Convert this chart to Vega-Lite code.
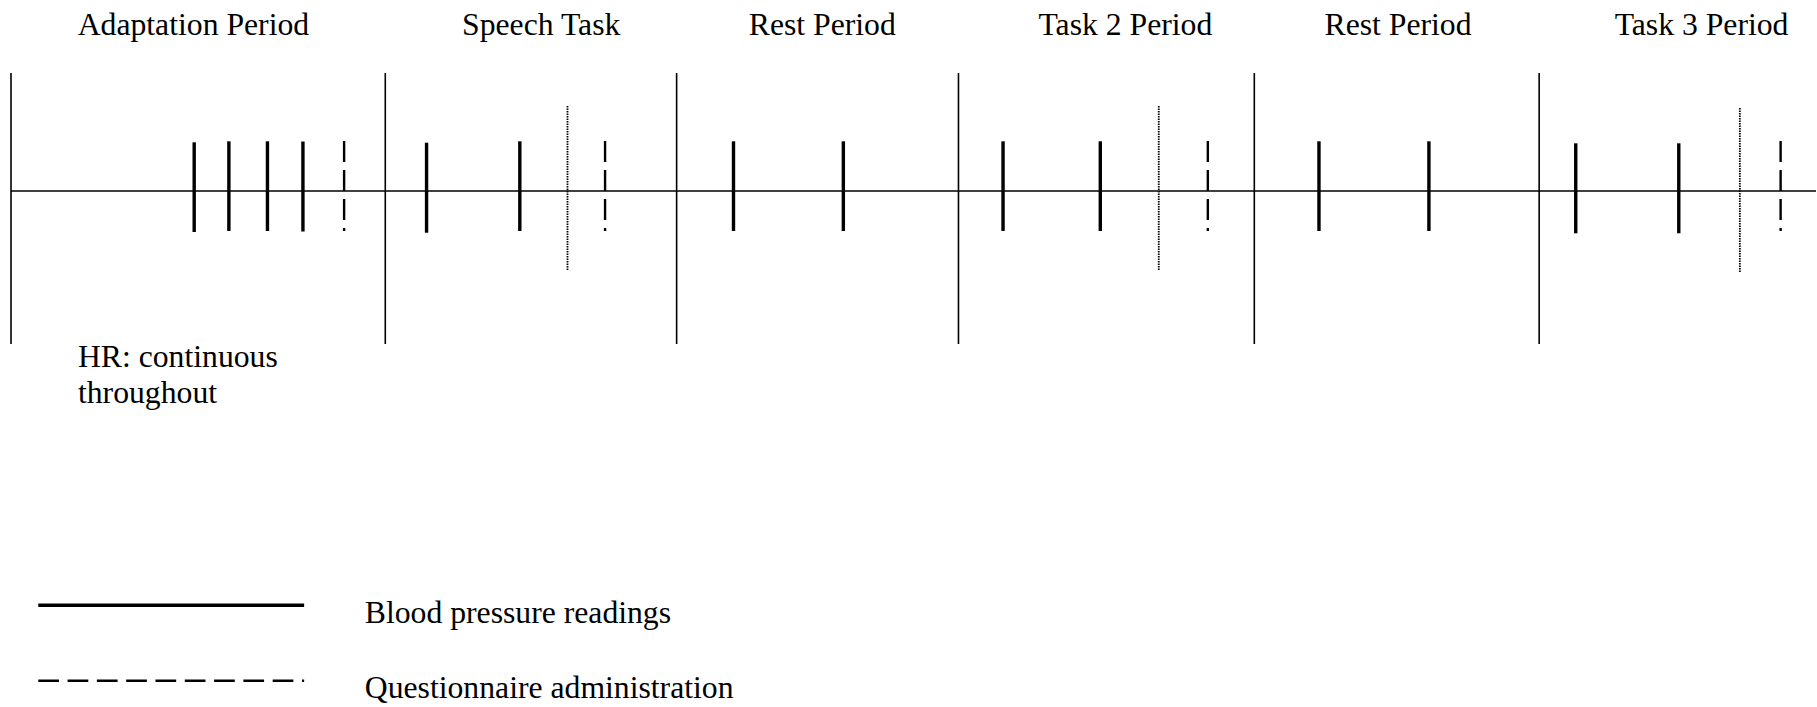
{
  "$schema": "https://vega.github.io/schema/vega-lite/v6.json",
  "width": 1817,
  "height": 707,
  "autosize": {"type": "fit", "contains": "padding"},
  "padding": 0,
  "background": "white",
  "config": {"view": {"stroke": null}},
  "layer": [
    {
      "data": {"values": [{"t0": 11, "t1": 1817, "lvl": 191}]},
      "mark": {"type": "rule", "color": "black", "strokeWidth": 1.5},
      "encoding": {
        "x": {"field": "t0", "type": "quantitative", "scale": {"domain": [0, 1817], "nice": false, "zero": false}, "axis": null},
        "x2": {"field": "t1"},
        "y": {"field": "lvl", "type": "quantitative", "scale": {"domain": [0, 707], "nice": false, "zero": false, "reverse": true}, "axis": null}
      }
    },
    {
      "data": {"values": [
        {"t": 11, "top": 73, "bot": 344},
        {"t": 385.5, "top": 73, "bot": 344},
        {"t": 677, "top": 73, "bot": 344},
        {"t": 959, "top": 73, "bot": 344},
        {"t": 1255, "top": 73, "bot": 344},
        {"t": 1540, "top": 73, "bot": 344}
      ]},
      "mark": {"type": "rule", "color": "black", "strokeWidth": 1.6},
      "encoding": {
        "x": {"field": "t", "type": "quantitative"},
        "y": {"field": "top", "type": "quantitative"},
        "y2": {"field": "bot"}
      }
    },
    {
      "data": {"values": [
        {"t": 194.3, "top": 142.3, "bot": 232},
        {"t": 229, "top": 141.3, "bot": 231},
        {"t": 267.6, "top": 141.3, "bot": 231},
        {"t": 303.1, "top": 141.5, "bot": 231.5},
        {"t": 426.8, "top": 142.7, "bot": 232.7},
        {"t": 520.1, "top": 141.3, "bot": 231},
        {"t": 733.9, "top": 141.3, "bot": 231},
        {"t": 843.8, "top": 141.3, "bot": 231},
        {"t": 1003.6, "top": 141.3, "bot": 231},
        {"t": 1100.9, "top": 141.3, "bot": 231},
        {"t": 1319.7, "top": 141.3, "bot": 231},
        {"t": 1429.7, "top": 141.3, "bot": 231},
        {"t": 1576.6, "top": 143.3, "bot": 233.3},
        {"t": 1679.7, "top": 143.3, "bot": 233.3}
      ]},
      "mark": {"type": "rule", "color": "black", "strokeWidth": 3.4},
      "encoding": {
        "x": {"field": "t", "type": "quantitative"},
        "y": {"field": "top", "type": "quantitative"},
        "y2": {"field": "bot"}
      }
    },
    {
      "data": {"values": [
        {"t": 344.3, "top": 141, "bot": 231},
        {"t": 605.4, "top": 141, "bot": 231},
        {"t": 1208.5, "top": 141, "bot": 231},
        {"t": 1781.6, "top": 141, "bot": 231}
      ]},
      "mark": {"type": "rule", "color": "black", "strokeWidth": 2.4, "strokeDash": [21, 8]},
      "encoding": {
        "x": {"field": "t", "type": "quantitative"},
        "y": {"field": "top", "type": "quantitative"},
        "y2": {"field": "bot"}
      }
    },
    {
      "data": {"values": [
        {"t": 567.8, "top": 106, "bot": 270.7},
        {"t": 1159.4, "top": 106, "bot": 270},
        {"t": 1740.8, "top": 108, "bot": 272.7}
      ]},
      "mark": {"type": "rule", "color": "black", "strokeWidth": 1.8, "strokeDash": [1.5, 1]},
      "encoding": {
        "x": {"field": "t", "type": "quantitative"},
        "y": {"field": "top", "type": "quantitative"},
        "y2": {"field": "bot"}
      }
    },
    {
      "data": {"values": [
        {"t": 193.5, "lvl": 35, "label": "Adaptation Period"},
        {"t": 541.5, "lvl": 35, "label": "Speech Task"},
        {"t": 822.7, "lvl": 35, "label": "Rest Period"},
        {"t": 1126, "lvl": 35, "label": "Task 2 Period"},
        {"t": 1398.8, "lvl": 35, "label": "Rest Period"},
        {"t": 1702.5, "lvl": 35, "label": "Task 3 Period"}
      ]},
      "mark": {"type": "text", "font": "Liberation Serif", "fontSize": 31.7, "color": "black", "align": "center", "baseline": "alphabetic"},
      "encoding": {
        "x": {"field": "t", "type": "quantitative"},
        "y": {"field": "lvl", "type": "quantitative"},
        "text": {"field": "label"}
      }
    },
    {
      "data": {"values": [
        {"t": 78, "lvl": 367, "label": "HR: continuous"},
        {"t": 78, "lvl": 403, "label": "throughout"},
        {"t": 365, "lvl": 623, "label": "Blood pressure readings"},
        {"t": 365, "lvl": 698, "label": "Questionnaire administration"}
      ]},
      "mark": {"type": "text", "font": "Liberation Serif", "fontSize": 31.7, "color": "black", "align": "left", "baseline": "alphabetic"},
      "encoding": {
        "x": {"field": "t", "type": "quantitative"},
        "y": {"field": "lvl", "type": "quantitative"},
        "text": {"field": "label"}
      }
    },
    {
      "data": {"values": [{"t0": 38.3, "t1": 304.3, "lvl": 605.3}]},
      "mark": {"type": "rule", "color": "black", "strokeWidth": 3.4},
      "encoding": {
        "x": {"field": "t0", "type": "quantitative"},
        "x2": {"field": "t1"},
        "y": {"field": "lvl", "type": "quantitative"}
      }
    },
    {
      "data": {"values": [{"t0": 38.3, "t1": 304.3, "lvl": 680.7}]},
      "mark": {"type": "rule", "color": "black", "strokeWidth": 2.5, "strokeDash": [20.7, 8.6]},
      "encoding": {
        "x": {"field": "t0", "type": "quantitative"},
        "x2": {"field": "t1"},
        "y": {"field": "lvl", "type": "quantitative"}
      }
    }
  ]
}
